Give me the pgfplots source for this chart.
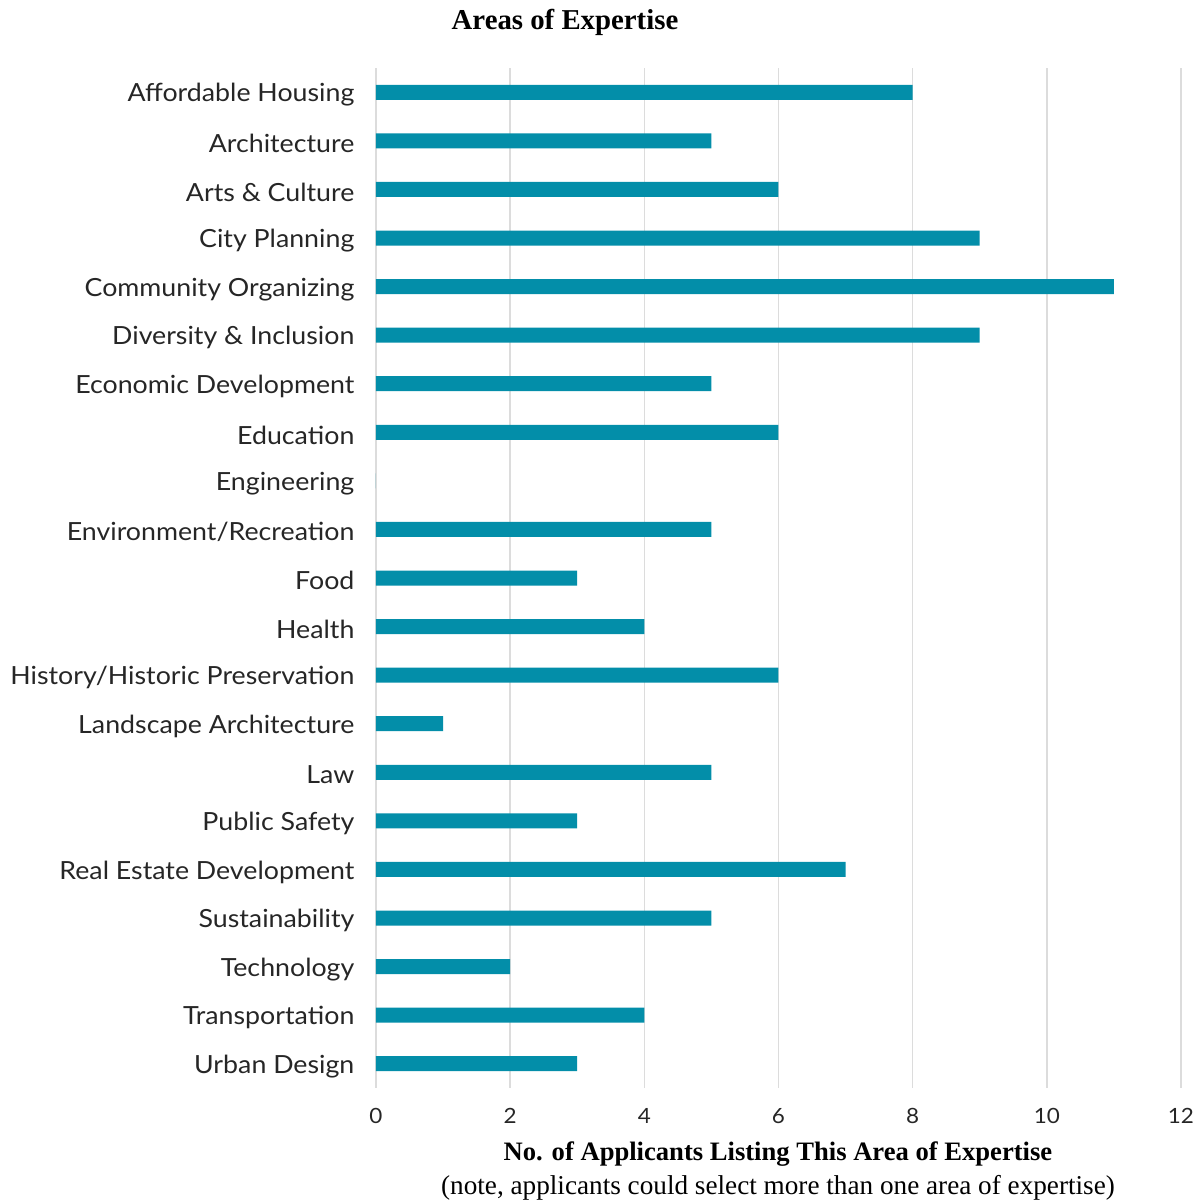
\documentclass[border=0pt]{standalone}
\usepackage{pgfplots}
\pgfplotsset{compat=1.18}
\usepackage{fontspec}
\setmainfont{Lato}
\newfontfamily\labelfont[FakeStretch=1.07]{Lato}
\newfontfamily\serif{Liberation Serif}
\definecolor{bar}{HTML}{038EA9}
\definecolor{gridc}{HTML}{DCDCDC}
\definecolor{txt}{HTML}{262626}
\begin{document}
\begin{tikzpicture}
\begin{axis}[
  at={(0,0)}, anchor=south west,
  scale only axis,
  width=402.5pt, height=510pt,
  xbar, bar width=7.5pt,
  xmin=0, xmax=12,
  ymin=-0.5, ymax=20.5,
  y dir=reverse,
  ytick={0,...,20},
  yticklabels={Affordable Housing, Architecture, Arts \& Culture, City Planning, Community Organizing, Diversity \& Inclusion, Economic Development, Education, Engineering, Environment/Recreation, Food, Health, History/Historic Preservation, Landscape Architecture, Law, Public Safety, Real Estate Development, Sustainability, Technology, Transportation, Urban Design},
  xtick={0,2,...,12},
  axis line style={draw=none},
  tick style={draw=none},
  xmajorgrids, grid style={gridc, line width=0.8pt},
  yticklabel style={font=\labelfont\fontsize{12.5}{14}\selectfont, text=txt, xshift=-3pt, yshift=-1.3pt},
  xticklabel style={font=\labelfont\fontsize{10.5}{12}\selectfont, text=txt, yshift=-6.5pt},
  /pgf/number format/assume math mode=true,
  clip=false,
]
\addplot[fill=bar, draw=none] coordinates {
(8,0) (5,1) (6,2) (9,3) (11,4) (9,5) (5,6) (6,7) (0,8) (5,9) (3,10) (4,11) (6,12) (1,13) (5,14) (3,15) (7,16) (5,17) (2,18) (4,19) (3,20)};
\end{axis}
\node[font=\serif\bfseries\fontsize{14.4}{16}\selectfont, text=black] at (94.5pt,533pt) {Areas of Expertise};
\node[font=\serif\bfseries\fontsize{13.3}{15}\selectfont, text=black] at (201pt,-33pt) {No. of Applicants Listing This Area of Expertise};
\node[font=\serif\fontsize{13.6}{15}\selectfont, text=black] at (201pt,-50pt) {(note, applicants could select more than one area of expertise)};
\pgfresetboundingbox
\path (-188pt,-56.5pt) rectangle (411.5pt,544pt);
\end{tikzpicture}
\end{document}
